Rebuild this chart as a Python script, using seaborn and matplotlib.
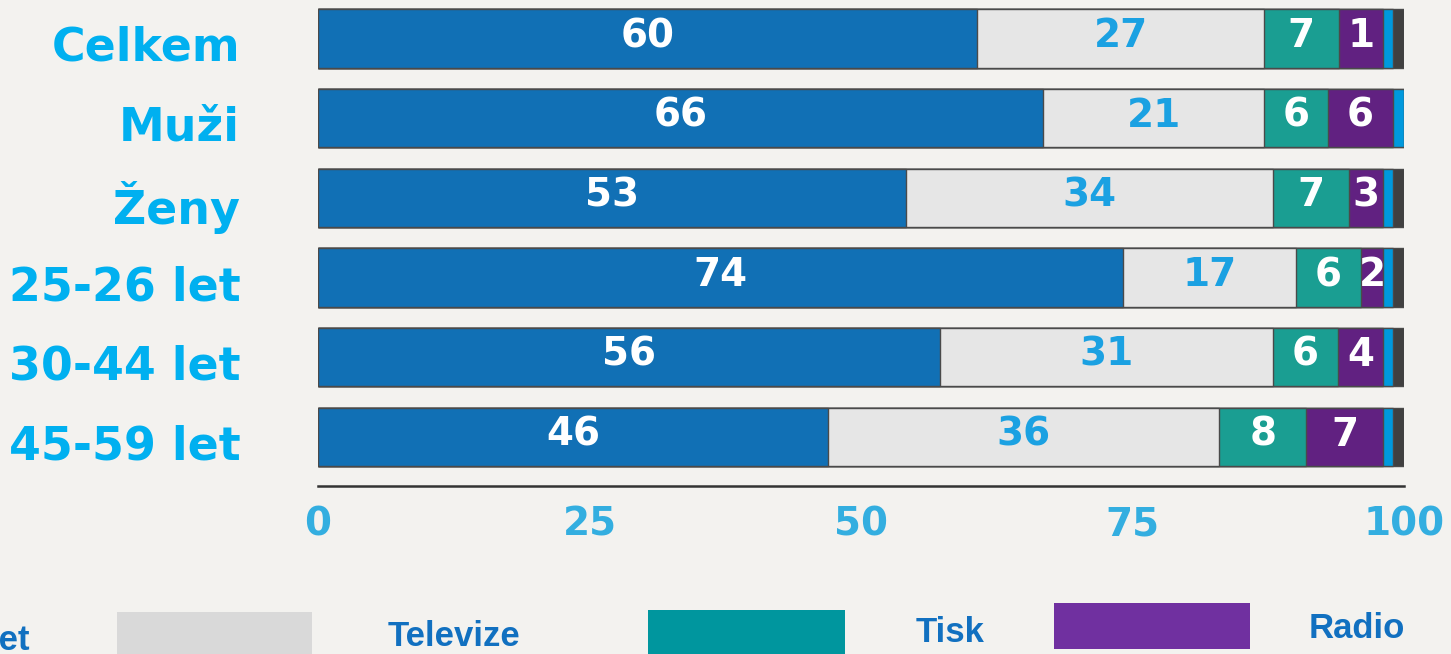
import numpy as np
import pandas as pd
import seaborn as sns
from matplotlib import pyplot as plt
from matplotlib.patches import Rectangle
from matplotlib.transforms import ScaledTranslation

# row labels
groups = ['Celkem', 'Muži', 'Ženy', '25-26 let', '30-44 let', '45-59 let']

# segment widths (percent)
internet = [60.7, 66.8, 54.1, 74.1, 57.3, 47.0]
televize = [26.4, 20.3, 33.8, 16.0, 30.6, 36.0]
tisk = [6.9, 5.9, 7.0, 5.9, 6.0, 8.0]
radio = [4.1, 6.0, 3.2, 2.1, 4.2, 7.1]
jine = [0.9, 1.0, 0.9, 0.9, 0.9, 0.9]
nevi = [1.0, 0.0, 1.0, 1.0, 1.0, 1.0]

# printed numbers
internet_lbl = ['60', '66', '53', '74', '56', '46']
televize_lbl = ['27', '21', '34', '17', '31', '36']
tisk_lbl = ['7', '6', '7', '6', '6', '8']
radio_lbl = ['1', '6', '3', '2', '4', '7']

legend_names = ['Internet', 'Televize', 'Tisk', 'Radio']
ticks = [0, 25, 50, 75, 100]

bar_colors = ['#1170b5', '#e6e6e6', '#1a9e92', '#612181', '#0099dd', '#404040']
legend_colors = ['#1170b5', '#d9d9d9', '#00969e', '#7030a0']
bg = '#f3f2ef'

df = pd.DataFrame({'group': groups, 'internet': internet, 'televize': televize,
                   'tisk': tisk, 'radio': radio, 'jine': jine, 'nevi': nevi})
parts = ['internet', 'televize', 'tisk', 'radio', 'jine', 'nevi']
cum = df[parts].cumsum(axis=1)

W, H = 1451, 654
fig = plt.figure(figsize=(W / 100, H / 100), dpi=100, facecolor=bg)
ax = fig.add_axes([318 / W, 1 - 486 / H, (1404 - 318) / W, 486 / H])
ax.set_facecolor(bg)

# stacked bars: draw the cumulative totals from the longest down
for i in range(len(parts) - 1, -1, -1):
    sns.barplot(x=cum[parts[i]], y=df['group'], color=bar_colors[i], orient='h',
                width=0.73, edgecolor='#4a4a4a', linewidth=1.0, ax=ax,
                saturation=1)

ax.set_xlim(0, 100)
ax.set_ylim(5.615, -0.483)
ax.set_xlabel('')
ax.set_ylabel('')
for s in ['top', 'right', 'left']:
    ax.spines[s].set_visible(False)
ax.spines['bottom'].set_color('#333333')
ax.spines['bottom'].set_linewidth(1.8)

starts = cum.shift(1, axis=1).fillna(0)
lbl_sets = [(internet_lbl, 'internet', 'white'), (televize_lbl, 'televize', '#1ba1e2'),
            (tisk_lbl, 'tisk', 'white'), (radio_lbl, 'radio', 'white')]
for lbls, col, c in lbl_sets:
    for r in range(len(groups)):
        xc = (starts[col][r] + cum[col][r]) / 2
        ax.text(xc, r - 0.03, lbls[r], ha='center', va='center', color=c,
                fontsize=28, fontweight='bold', family='DejaVu Sans')

ax.set_xticks(ticks)
ax.set_xticklabels([str(t) for t in ticks], fontsize=28, fontweight='bold',
                   color='#33aee0', family='DejaVu Sans')
ax.tick_params(axis='x', length=0, pad=14)
ax.tick_params(axis='y', length=0, pad=56)
shift_down = ScaledTranslation(0, -0.05, fig.dpi_scale_trans)
for t in ax.get_yticklabels():
    t.set_fontsize(33)
    t.set_fontweight('bold')
    t.set_color('#00b0f0')
    t.set_family('DejaVu Sans')
    t.set_transform(t.get_transform() + shift_down)

# legend strip along the bottom (first entry runs off the left edge)
patch_boxes = [(-420, 612, 196, 44), (117, 612, 195, 44), (648, 610, 197, 44), (1054, 603, 196, 46)]
text_spots = [(30, 640, 'right'), (388, 637, 'left'), (916, 632, 'left'), (1309, 628, 'left')]
for (x0, y0, w, h), c in zip(patch_boxes, legend_colors):
    fig.add_artist(Rectangle((x0 / W, 1 - (y0 + h) / H), w / W, h / H,
                             transform=fig.transFigure, facecolor=c, edgecolor='none'))
for (tx, ty, ha), name in zip(text_spots, legend_names):
    fig.text(tx / W, 1 - ty / H, name, ha=ha, va='center', color='#1170c0',
             fontsize=25, fontweight='bold', family='Liberation Sans')

fig.savefig('out.png', dpi=100, facecolor=bg)
